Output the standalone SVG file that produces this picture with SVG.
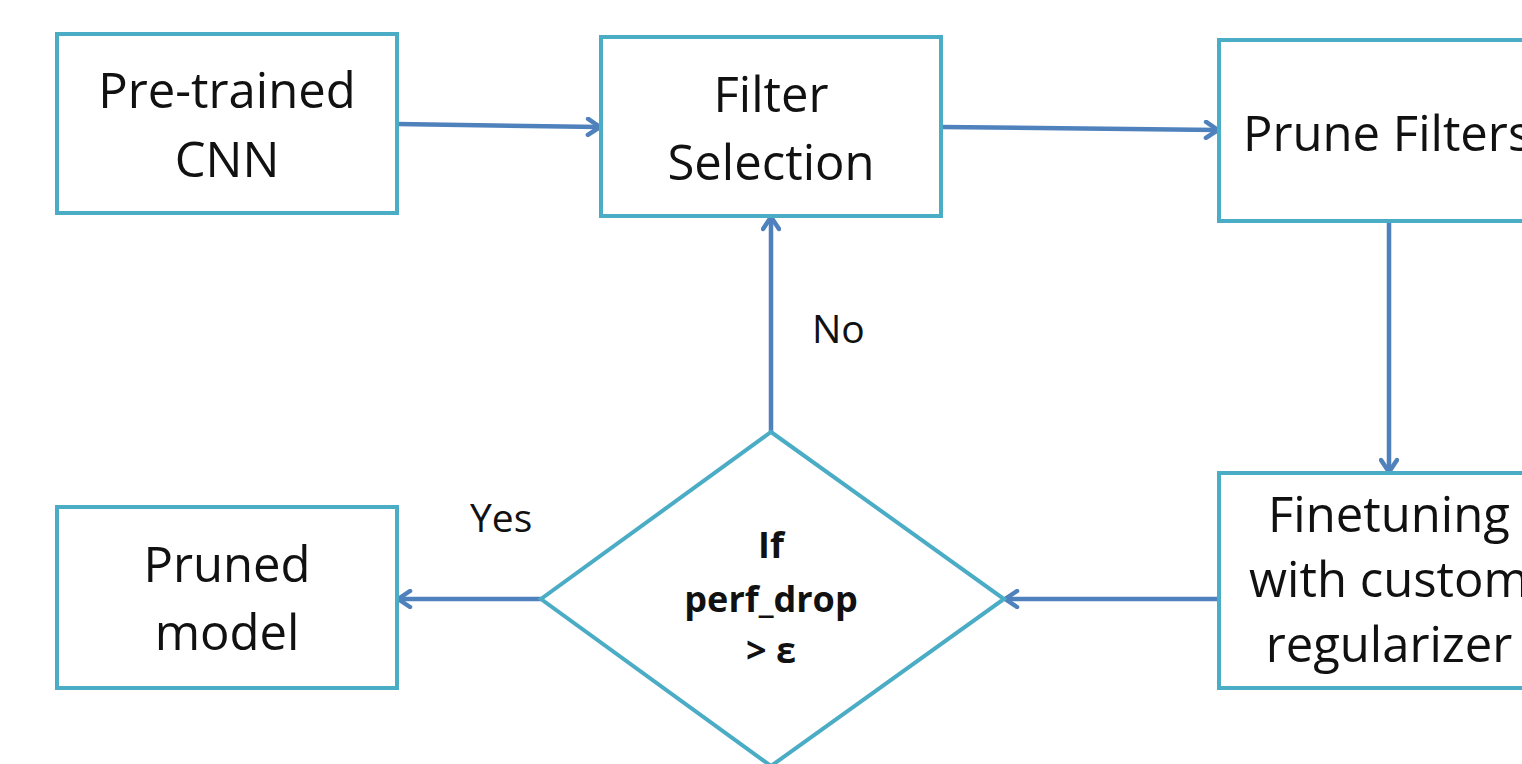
<svg xmlns="http://www.w3.org/2000/svg" width="1522" height="764" viewBox="0 0 1522 764">
<defs>
<style>
.box{fill:#fff;stroke:#4BACC6;stroke-width:4}
.t{font-family:"Open Sans",Lato,"Liberation Sans",sans-serif;font-size:49px;fill:#111;text-anchor:middle}
.d{font-family:"Open Sans",Lato,"Liberation Sans",sans-serif;font-size:36px;font-weight:bold;fill:#111;text-anchor:middle}
.l{font-family:"Open Sans",Lato,"Liberation Sans",sans-serif;font-size:39px;fill:#111}
.c{fill:none;stroke:#4F81BD;stroke-width:4.5}
</style>
<marker id="ah" viewBox="0 0 20 20" refX="17" refY="10" markerWidth="20" markerHeight="20" markerUnits="userSpaceOnUse" orient="auto">
<path d="M5,2 L17,10 L5,18" fill="none" stroke="#4F81BD" stroke-width="4.5" stroke-linecap="round" stroke-linejoin="round"/>
</marker>
</defs>
<rect width="1522" height="764" fill="#fff"/>
<g id="connectors">
<path class="c" d="M397,124 L600,127" marker-end="url(#ah)"/>
<path class="c" d="M941,127 L1218,130" marker-end="url(#ah)"/>
<path class="c" d="M1389,221 L1389,472" marker-end="url(#ah)"/>
<path class="c" d="M1219,599 L1005,599" marker-end="url(#ah)"/>
<path class="c" d="M541,599 L398,599" marker-end="url(#ah)"/>
<path class="c" d="M771,432 L771,217" marker-end="url(#ah)"/>
</g>
<g id="n1">
<rect class="box" x="57" y="34" width="340" height="179"/>
<text class="t" x="227" y="108">Pre-trained</text>
<text class="t" x="227" y="177">CNN</text>
</g>
<g id="n2">
<rect class="box" x="601" y="37" width="340" height="179"/>
<text class="t" x="771" y="112">Filter</text>
<text class="t" x="771" y="180">Selection</text>
</g>
<g id="n3">
<rect class="box" x="1219" y="40" width="340" height="181"/>
<text class="t" x="1243" y="151" style="text-anchor:start">Prune Filters</text>
</g>
<g id="n4">
<rect class="box" x="1219" y="473" width="340" height="215"/>
<text class="t" x="1389" y="532">Finetuning</text>
<text class="t" x="1389" y="597">with custom</text>
<text class="t" x="1389" y="662">regularizer</text>
</g>
<g id="n5">
<rect class="box" x="57" y="507" width="340" height="181"/>
<text class="t" x="227" y="582">Pruned</text>
<text class="t" x="227" y="650">model</text>
</g>
<g id="n6">
<path class="box" d="M771,432 L1004,599 L771,766 L541,599 Z"/>
<text class="d" x="771" y="558">If</text>
<text class="d" x="771" y="612">perf_drop</text>
<text class="d" x="771" y="663">&gt; ε</text>
</g>
<text class="l" x="470" y="532">Yes</text>
<text class="l" x="812" y="343">No</text>
</svg>
